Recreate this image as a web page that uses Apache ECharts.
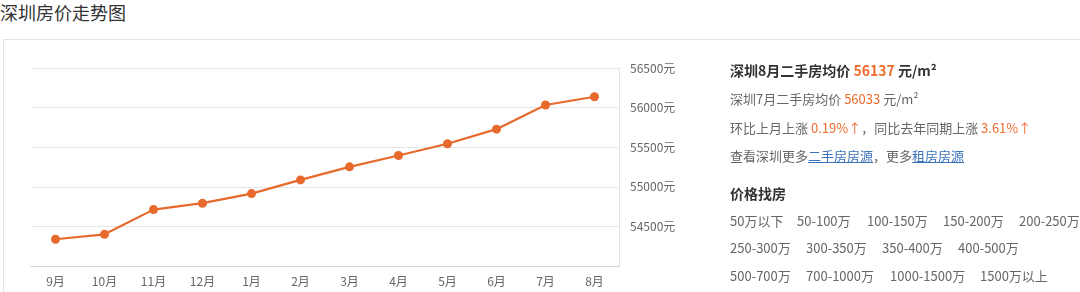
<!DOCTYPE html>
<html><head><meta charset="utf-8">
<script src="https://cdn.jsdelivr.net/npm/echarts@6/dist/echarts.min.js"></script>
<style>
html,body{margin:0;padding:0;background:#fff;width:1080px;height:292px;overflow:hidden;font-family:"Noto Sans CJK SC","Noto Sans",sans-serif;}
#title{position:absolute;left:0;top:0;font-size:18px;line-height:24px;color:#333;}
#box{position:absolute;left:3px;top:39px;width:1100px;height:300px;border:1px solid #e3e3e3;box-sizing:border-box;}
#chart{position:absolute;left:0;top:0;width:1080px;height:292px;}
#panel{position:absolute;left:730px;top:0;color:#666;font-size:13px;white-space:nowrap;}
.ln{position:absolute;left:0;line-height:18px;}
.b{font-weight:bold;color:#333;font-size:14px;}
.o{color:#ee6b2e;}
.a{color:#3b73b9;text-decoration:underline;}
</style></head>
<body>
<div id="box"></div>
<div id="title">深圳房价走势图</div>
<div id="chart"></div>
<div id="panel"></div>
<script>
const categories = ['9月','10月','11月','12月','1月','2月','3月','4月','5月','6月','7月','8月'];
const prices = [54338, 54400, 54712, 54793, 54914, 55087, 55252, 55395, 55543, 55728, 56033, 56137];
const yTicks = {min: 54000, max: 56500, interval: 500};
const priceRanges = [
  ['50万以下','50-100万','100-150万','150-200万','200-250万'],
  ['250-300万','300-350万','350-400万','400-500万'],
  ['500-700万','700-1000万','1000-1500万','1500万以上']
];
const rowGaps = [[0,67,137,213,289],[0,76,152,228],[0,76,160,250]];

const chart = echarts.init(document.getElementById('chart'), null, {renderer:'canvas'});
chart.setOption({
  backgroundColor: 'transparent',
  animation: false,
  grid: {left: 31, right: 461, top: 68, bottom: 26, containLabel: false},
  xAxis: {
    type: 'category', data: categories, boundaryGap: true,
    axisLine: {lineStyle: {color: '#d0d0d0', width: 1}},
    axisTick: {alignWithLabel: true, length: 4, lineStyle: {color: '#d0d0d0'}},
    axisLabel: {color: '#666', fontSize: 12, margin: 9, fontFamily: '"Noto Sans CJK SC", sans-serif'}
  },
  yAxis: {
    type: 'value', position: 'right', min: yTicks.min, max: yTicks.max, interval: yTicks.interval,
    axisLine: {show: true, lineStyle: {color: '#e3e3e3'}},
    axisTick: {show: false},
    splitLine: {lineStyle: {color: '#e6e6e6'}},
    axisLabel: {color: '#666', fontSize: 12, margin: 11, showMinLabel: false,
      formatter: v => v + '元', fontFamily: '"Noto Sans CJK SC", sans-serif'}
  },
  series: [{
    type: 'line', data: prices, symbol: 'circle', symbolSize: 9,
    lineStyle: {color: '#e8692c', width: 2.2},
    itemStyle: {color: '#e8692c'}
  }]
});

const panel = document.getElementById('panel');
const n = prices.length;
const cur = prices[n-1], prev = prices[n-2];
let html = '';
html += `<div class="ln b" style="top:61px">深圳8月二手房均价 <span class="o">${cur}</span> 元/m²</div>`;
html += `<div class="ln" style="top:90px">深圳7月二手房均价 <span class="o">${prev}</span> 元/m²</div>`;
html += `<div class="ln" style="top:119px">环比上月上涨 <span class="o">0.19%↑</span>，同比去年同期上涨 <span class="o">3.61%↑</span></div>`;
html += `<div class="ln" style="top:147px">查看深圳更多<span class="a">二手房房源</span>，更多<span class="a">租房房源</span></div>`;
html += `<div class="ln b" style="top:184px">价格找房</div>`;
const rowTops = [212, 239, 267];
priceRanges.forEach((row, i) => {
  row.forEach((t, j) => {
    html += `<div class="ln" style="top:${rowTops[i]}px;left:${rowGaps[i][j]}px">${t}</div>`;
  });
});
panel.innerHTML = html;
</script>
</body></html>
